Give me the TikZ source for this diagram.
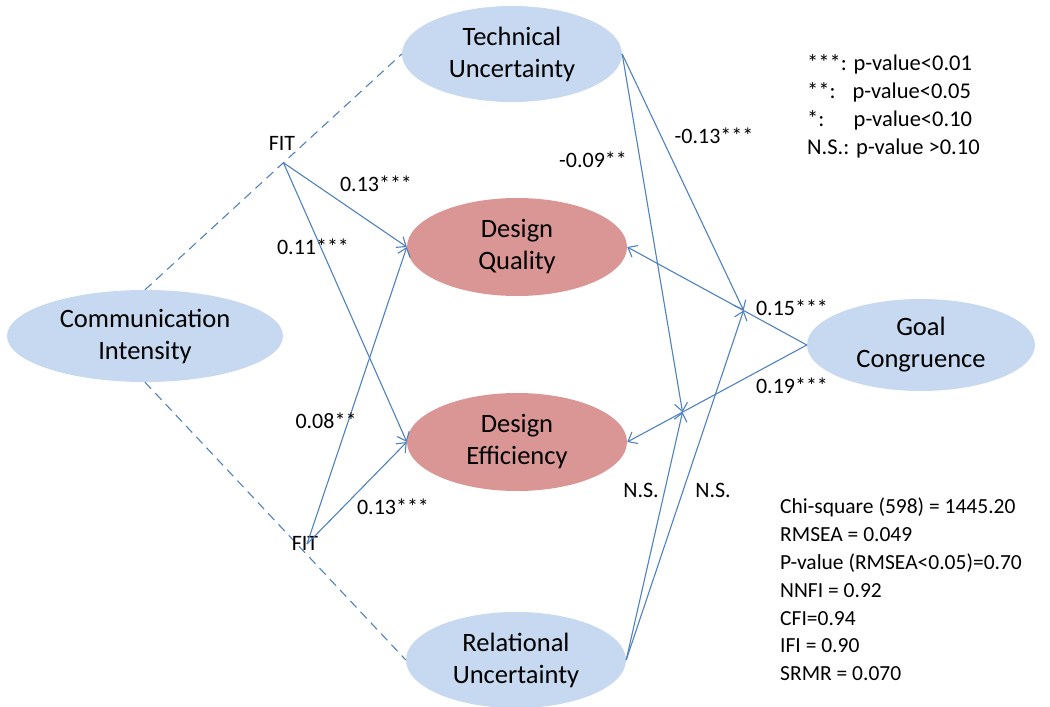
\documentclass[tikz,border=0pt]{standalone}
\usepackage{fontspec}
\setmainfont{Carlito}
\usetikzlibrary{shapes.geometric,arrows.meta,calc}

\definecolor{lineblue}{RGB}{79,129,189}
\definecolor{ovalblue}{RGB}{198,217,240}
\definecolor{ovalred}{RGB}{217,150,148}

\begin{document}
\begin{tikzpicture}[x=1pt,y=-1pt,
  construct/.style={ellipse, fill=ovalblue, inner sep=0pt, align=center,
    minimum width=220pt, minimum height=96pt,
    font=\fontsize{26.5}{32}\selectfont},
  outcome/.style={construct, fill=ovalred},
  link/.style={draw=lineblue, line width=1.1pt},
  effect/.style={link, -{Straight Barb[length=8pt,width=13pt,line width=1.1pt]}},
  moderation/.style={link, dash pattern=on 9pt off 6pt},
  coef/.style={font=\fontsize{22}{26}\selectfont, inner sep=0pt},
  notes/.style={font=\fontsize{21.5}{27.8}\selectfont, align=left, inner sep=0pt, anchor=north west}]

\useasboundingbox (0,0) rectangle (1050,707);

% constructs
\node[construct] (tu) at (512,54) {Technical\\Uncertainty};
\node[outcome, minimum height=98pt] (dq) at (517,247) {Design\\Quality};
\node[outcome, minimum height=98pt] (de) at (517,442) {Design\\Efficiency};
\node[construct] (ru) at (516,660) {Relational\\Uncertainty};
\node[construct, minimum width=276pt, minimum height=92pt] (ci) at (145,336) {Communication\\Intensity};
\node[construct, minimum width=228pt, minimum height=92pt] (gc) at (921,345) {Goal\\Congruence};

% fit terms on the dashed moderation lines
\draw[moderation] (ci.north) -- (tu.west);
\draw[moderation] (ci.south) -- (ru.west);
\coordinate (fitA) at ($(ci.north)!0.539!(tu.west)$);
\coordinate (fitB) at (307,544);
\node[coef] (fitAl) at (282,143) {FIT};
\node[coef] (fitBl) at (305,543) {FIT};

% effects of the fit terms
\draw[effect] (fitA) -- (dq.west);
\draw[effect] (fitA) -- (de.west);
\draw[effect] (fitB) -- (dq.west);
\draw[effect] (fitB) -- (de.west);

% goal congruence paths and moderation points on them
\draw[effect] (gc.west) -- (dq.east);
\draw[effect] (gc.west) -- (de.east);
\coordinate (mq) at ($(gc.west)!0.352!(dq.east)$);
\coordinate (me) at ($(gc.west)!0.692!(de.east)$);

\draw[effect] (tu.east) -- (mq);
\draw[effect] (tu.east) -- (me);
\draw[effect] (ru.east) -- (mq);
\draw[effect] (ru.east) -- (me);

% path coefficients
\node[coef] (c1) at (376,184) {0.13***};
\node[coef] (c2) at (313,247) {0.11***};
\node[coef] (c3) at (326,421) {0.08**};
\node[coef] (c4) at (393,507) {0.13***};
\node[coef] (c5) at (593,160) {-0.09**};
\node[coef] (c6) at (714,136) {-0.13***};
\node[coef] (c7) at (792,308) {0.15***};
\node[coef] (c8) at (792,386) {0.19***};
\node[coef] (c9) at (641,490) {N.S.};
\node[coef] (c10) at (713,490) {N.S.};

% significance legend
\node[notes, font=\fontsize{22.5}{28}\selectfont] (legend) at (807,54) {***: p-value<0.01\\
**:\hspace{0.75em}p-value<0.05\\
*:\hspace{1.3em}p-value<0.10\\
N.S.: p-value >0.10};

% fit statistics
\node[notes] (fitstats) at (780,498) {Chi-square (598) = 1445.20\\
RMSEA = 0.049\\
P-value (RMSEA<0.05)=0.70\\
NNFI = 0.92\\
CFI=0.94\\
IFI = 0.90\\
SRMR = 0.070};
\end{tikzpicture}
\end{document}
